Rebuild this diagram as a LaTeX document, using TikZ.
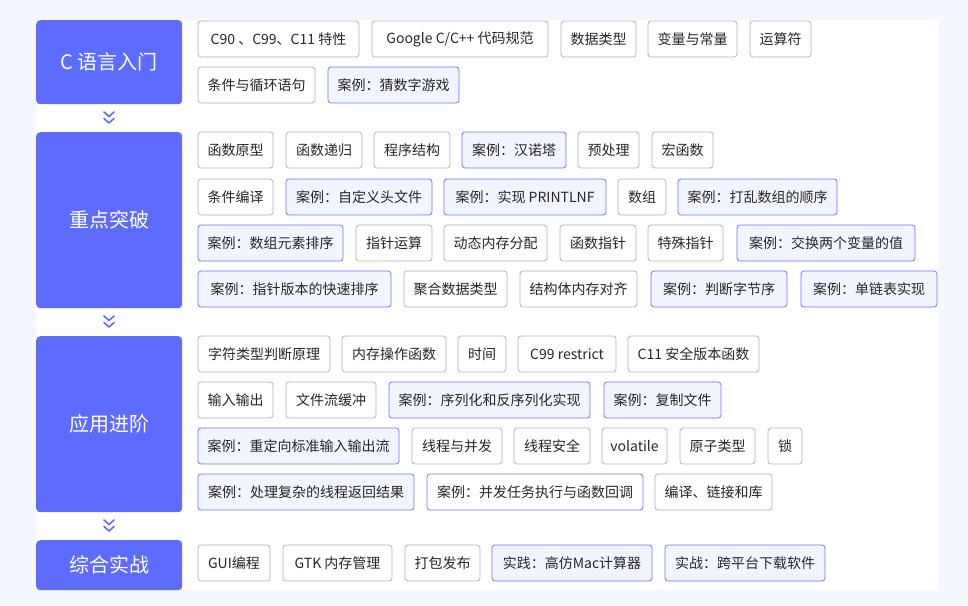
\documentclass[tikz,border=0pt]{standalone}
\usepackage{fontspec}
\setmainfont{Noto Sans CJK SC}
\definecolor{bgc}{HTML}{F4F7FE}
\definecolor{stagec}{HTML}{5D6BFF}
\definecolor{tagline}{HTML}{B3B3B3}
\definecolor{hlline}{HTML}{6A7AF5}
\definecolor{hlfill}{HTML}{F2F4FF}
\definecolor{txt}{HTML}{262626}
\newcommand\tg[6]{\node[#1, minimum width={(#4-#3)*1pt}] (#2) at ({(#3+#4)/2},{#5+18}) {#6};}
\newcommand\chev[2]{%
  \draw[chevline] (#1-5,#2-6) -- (#1,#2-1.5) -- (#1+5,#2-6);
  \draw[chevline] (#1-5,#2+0.5) -- (#1,#2+5) -- (#1+5,#2+0.5);}
\begin{document}
\begin{tikzpicture}[x=1pt,y=-1pt,
  stage/.style={fill=stagec, rounded corners=4pt, text=white, inner sep=0pt,
    minimum width=146pt, anchor=north west, font=\fontsize{20}{24}\selectfont},
  tagbox/.style={draw=tagline, line width=0.8pt, fill=white, rounded corners=3pt,
    minimum height=36pt, inner sep=0pt, text=txt, font=\fontsize{14}{16}\selectfont},
  hlbox/.style={tagbox, draw=hlline, fill=hlfill},
  hlwhite/.style={tagbox, draw=hlline},
  chevline/.style={draw=stagec, line width=1.6pt, line cap=round, line join=round}]
\fill[bgc] (0,0) rectangle (968,605);
\useasboundingbox (0,0) rectangle (968,605);
\fill[white] (36,20) rectangle (938,590);
% stages
\node[stage, minimum height=84pt] (s1) at (36,20) {C 语言入门};
\node[stage, minimum height=176pt] (s2) at (36,132) {重点突破};
\node[stage, minimum height=176pt] (s3) at (36,336) {应用进阶};
\node[stage, minimum height=50pt] (s4) at (36,540) {综合实战};
\chev{109}{118}
\chev{109}{322}
\chev{109}{526}
% stage 1
\tg{tagbox}{a1}{198}{359}{21}{C90 、C99、C11 特性}
\tg{tagbox}{a2}{372}{548}{21}{Google C/C++ 代码规范}
\tg{tagbox}{a3}{561}{636}{21}{数据类型}
\tg{tagbox}{a4}{648}{737}{21}{变量与常量}
\tg{tagbox}{a5}{750}{811}{21}{运算符}
\tg{tagbox}{a6}{198}{315}{67}{条件与循环语句}
\tg{hlbox}{a7}{328}{459}{67}{案例：猜数字游戏}
% stage 2
\tg{tagbox}{b1}{198}{273}{132}{函数原型}
\tg{tagbox}{b2}{286}{362}{132}{函数递归}
\tg{tagbox}{b3}{374}{450}{132}{程序结构}
\tg{hlbox}{b4}{462}{566}{132}{案例：汉诺塔}
\tg{tagbox}{b5}{578}{639}{132}{预处理}
\tg{tagbox}{b6}{652}{713}{132}{宏函数}
\tg{tagbox}{b7}{198}{273}{179}{条件编译}
\tg{hlbox}{b8}{286}{432}{179}{案例：自定义头文件}
\tg{hlbox}{b9}{444}{606}{179}{案例：实现 PRINTLNF}
\tg{tagbox}{b10}{618}{666}{179}{数组}
\tg{hlbox}{b11}{678}{837}{179}{案例：打乱数组的顺序}
\tg{hlbox}{b12}{198}{343}{225}{案例：数组元素排序}
\tg{tagbox}{b13}{356}{432}{225}{指针运算}
\tg{tagbox}{b14}{444}{547}{225}{动态内存分配}
\tg{tagbox}{b15}{560}{636}{225}{函数指针}
\tg{tagbox}{b16}{648}{723}{225}{特殊指针}
\tg{hlbox}{b17}{737}{915}{225}{案例：交换两个变量的值}
\tg{hlbox}{b18}{198}{391}{271}{案例：指针版本的快速排序}
\tg{tagbox}{b19}{404}{507}{271}{聚合数据类型}
\tg{tagbox}{b20}{520}{637}{271}{结构体内存对齐}
\tg{hlbox}{b21}{651}{787}{271}{案例：判断字节序}
\tg{hlbox}{b22}{801}{937}{271}{案例：单链表实现}
% stage 3
\tg{tagbox}{c1}{198}{330}{336}{字符类型判断原理}
\tg{tagbox}{c2}{342}{446}{336}{内存操作函数}
\tg{tagbox}{c3}{458}{506}{336}{时间}
\tg{tagbox}{c4}{518}{616}{336}{C99 restrict}
\tg{tagbox}{c5}{628}{759}{336}{C11 安全版本函数}
\tg{tagbox}{c6}{198}{273}{382}{输入输出}
\tg{tagbox}{c7}{286}{376}{382}{文件流缓冲}
\tg{hlbox}{c8}{389}{590}{382}{案例：序列化和反序列化实现}
\tg{hlbox}{c9}{604}{721}{382}{案例：复制文件}
\tg{hlbox}{c10}{198}{399}{428}{案例：重定向标准输入输出流}
\tg{tagbox}{c11}{412}{502}{428}{线程与并发}
\tg{tagbox}{c12}{514}{590}{428}{线程安全}
\tg{tagbox}{c13}{602}{667}{428}{volatile}
\tg{tagbox}{c14}{680}{755}{428}{原子类型}
\tg{tagbox}{c15}{768}{802}{428}{锁}
\tg{hlbox}{c16}{198}{414}{474}{案例：处理复杂的线程返回结果}
\tg{hlwhite}{c17}{427}{643}{474}{案例：并发任务执行与函数回调}
\tg{tagbox}{c18}{655}{772}{474}{编译、链接和库}
% stage 4
\tg{tagbox}{d1}{198}{270}{545}{GUI编程}
\tg{tagbox}{d2}{283}{392}{545}{GTK 内存管理}
\tg{tagbox}{d3}{405}{480}{545}{打包发布}
\tg{hlbox}{d4}{492}{652}{545}{实践：高仿Mac计算器}
\tg{hlbox}{d5}{665}{825}{545}{实战：跨平台下载软件}
\end{tikzpicture}
\end{document}
